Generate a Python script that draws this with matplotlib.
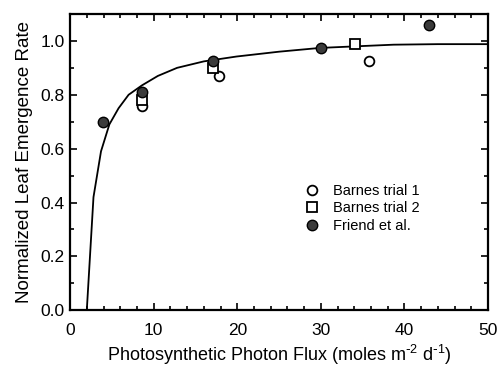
import numpy as np
import matplotlib.pyplot as plt
from matplotlib.ticker import MultipleLocator

plt.rcParams['font.family'] = ['Liberation Sans', 'DejaVu Sans']
plt.rcParams['mathtext.default'] = 'regular'

# fitted curve
curve_x = [2.0, 2.8, 3.7, 4.7, 5.8, 7.0, 8.6, 10.5, 12.8, 16.0, 19.9, 25.0, 29.9, 35.0, 38.7, 44.0, 50.0]
curve_y = [0.0, 0.42, 0.59, 0.69, 0.75, 0.80, 0.835, 0.87, 0.90, 0.924, 0.942, 0.96, 0.974, 0.981, 0.986, 0.988, 0.988]

# Barnes trial 1
barnes1_x = [8.6, 17.8, 35.7]
barnes1_y = [0.76, 0.87, 0.925]

# Barnes trial 2
barnes2_x = [8.6, 17.1, 34.1]
barnes2_y = [0.78, 0.90, 0.99]

# Friend et al.
friend_x = [3.9, 8.6, 17.1, 30.0, 42.9]
friend_y = [0.70, 0.81, 0.925, 0.975, 1.06]

fig = plt.figure(figsize=(4.97, 3.68), dpi=100)
ax = fig.add_axes([0.141, 0.157, 0.841, 0.805])

ax.plot(curve_x, curve_y, color='black', lw=1.3, zorder=2)
ax.plot(barnes1_x, barnes1_y, 'o', ms=7, mfc='white', mec='black', mew=1.3,
        label='Barnes trial 1', zorder=3)
ax.plot(barnes2_x, barnes2_y, 's', ms=6.5, mfc='white', mec='black', mew=1.3,
        label='Barnes trial 2', zorder=4)
ax.plot(friend_x, friend_y, 'o', ms=7.5, mfc='#3a3a3a', mec='black', mew=1.0,
        label='Friend et al.', zorder=5)

ax.set_xlim(0, 50)
ax.set_ylim(0, 1.1)
ax.xaxis.set_major_locator(MultipleLocator(10))
ax.xaxis.set_minor_locator(MultipleLocator(2))
ax.yaxis.set_major_locator(MultipleLocator(0.2))
ax.yaxis.set_minor_locator(MultipleLocator(0.1))
ax.tick_params(which='both', direction='in', top=True, right=True,
               width=1.2, labelsize=12.5)
ax.tick_params(which='major', length=5)
ax.tick_params(which='minor', length=3)
ax.xaxis.set_tick_params(pad=9)
ax.yaxis.set_tick_params(pad=4)
for s in ax.spines.values():
    s.set_linewidth(1.6)

ax.set_xlabel('Photosynthetic Photon Flux (moles m$^{\\text{-}2}$ d$^{\\text{-}1}$)',
              fontsize=13, labelpad=4)
ax.set_ylabel('Normalized Leaf Emergence Rate', fontsize=13.5, labelpad=5)

ax.legend(loc='upper left', bbox_to_anchor=(0.543, 0.45), frameon=False,
          fontsize=10.5, handletextpad=1.0, labelspacing=0.22, borderpad=0,
          handlelength=1.0)

fig.savefig('out.png', dpi=100)
